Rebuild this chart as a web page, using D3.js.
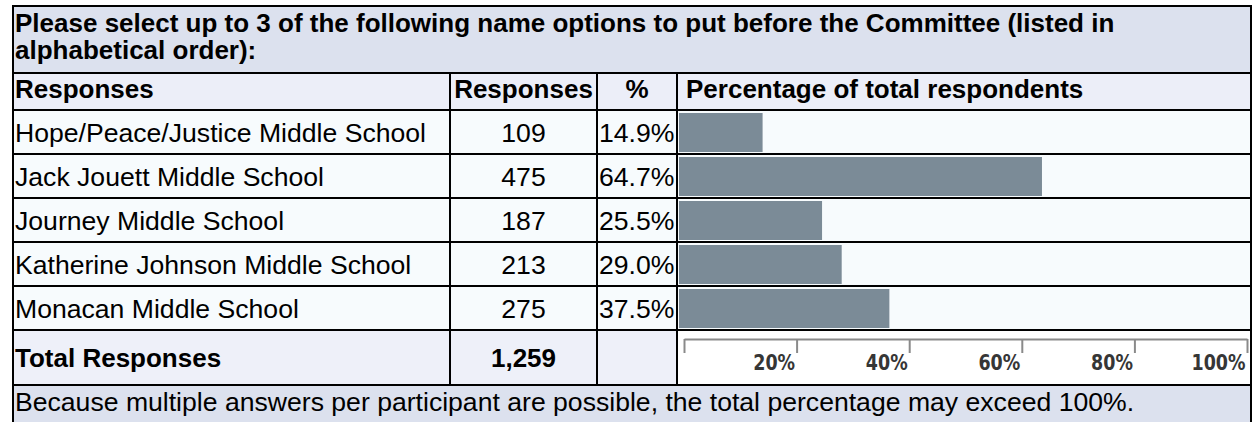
<!DOCTYPE html>
<html>
<head>
<meta charset="utf-8">
<script src="https://cdn.jsdelivr.net/npm/d3@7"></script>
<style>
  body { margin: 0; background: #fff; }
  svg text { font-family: "Liberation Sans", Arial, sans-serif; fill: #000; }
</style>
</head>
<body>
<div id="chart"></div>
<script>
'use strict';

const width = 1253;
const height = 422;

// data
const titleLines = [
    'Please select up to 3 of the following name options to put before the Committee (listed in',
    'alphabetical order):'
];
const columns = ['Responses', 'Responses', '%', 'Percentage of total respondents'];
const names = [
    'Hope/Peace/Justice Middle School',
    'Jack Jouett Middle School',
    'Journey Middle School',
    'Katherine Johnson Middle School',
    'Monacan Middle School'
];
const counts = [109, 475, 187, 213, 275];
const percents = [14.9, 64.7, 25.5, 29.0, 37.5];
const totalLabel = 'Total Responses';
const totalCount = 1259;
const axisTicks = [0, 20, 40, 60, 80, 100];
const footnote = 'Because multiple answers per participant are possible, the total percentage may exceed 100%.';

// layout
const leftX = 13, rightX = 1251;
const colX = [leftX, 450, 597, 677, rightX];
const topY = 6, titleBottom = 73, headBottom = 110, bodyBottom = 330, totalBottom = 385;
const fontBig = 26, fontBody = 26.6;

const rows = names.map((n, i) => ({ name: n, count: counts[i], pct: percents[i] }));

const y = d3.scaleBand().domain(names).range([headBottom, bodyBottom]);
const xBar = d3.scaleLinear().domain([0, 100]).range([679, 1240]);
const xAxis = d3.scaleLinear().domain([0, 100]).range([684, 1247]);

const svg = d3.select('#chart').append('svg')
    .attr('width', width)
    .attr('height', height);

// backgrounds
svg.append('rect').attr('x', leftX).attr('y', topY).attr('width', rightX - leftX).attr('height', titleBottom - topY).attr('fill', '#dce1ee');
svg.append('rect').attr('x', leftX).attr('y', titleBottom).attr('width', rightX - leftX).attr('height', headBottom - titleBottom).attr('fill', '#eceef8');
svg.append('rect').attr('x', leftX).attr('y', headBottom).attr('width', rightX - leftX).attr('height', bodyBottom - headBottom).attr('fill', '#f7fbfd');
svg.append('rect').attr('x', leftX).attr('y', bodyBottom).attr('width', colX[3] - leftX).attr('height', totalBottom - bodyBottom).attr('fill', '#eef0f9');
svg.append('rect').attr('x', colX[3]).attr('y', bodyBottom).attr('width', rightX - colX[3]).attr('height', totalBottom - bodyBottom).attr('fill', '#ffffff');
svg.append('rect').attr('x', leftX).attr('y', totalBottom).attr('width', rightX - leftX).attr('height', height - totalBottom).attr('fill', '#dce1ee');

// title
svg.append('g').selectAll('text').data(titleLines).enter().append('text')
    .attr('x', leftX + 2)
    .attr('y', (d, i) => 32 + i * 27)
    .attr('font-size', fontBig)
    .attr('font-weight', 'bold')
    .text(d => d);

// header row
const headAnchor = ['start', 'middle', 'middle', 'start'];
svg.append('g').selectAll('text').data(columns).enter().append('text')
    .attr('x', (d, i) => headAnchor[i] === 'middle' ? (colX[i] + colX[i + 1]) / 2 : colX[i] + (i === 0 ? 2 : 9))
    .attr('y', 98)
    .attr('text-anchor', (d, i) => headAnchor[i])
    .attr('font-size', fontBig)
    .attr('font-weight', 'bold')
    .text(d => d);

// body rows
const rowG = svg.append('g').selectAll('g').data(rows).enter().append('g')
    .attr('transform', d => `translate(0,${y(d.name)})`);

rowG.append('text')
    .attr('x', leftX + 2)
    .attr('y', y.bandwidth() / 2 + 10)
    .attr('font-size', fontBody)
    .text(d => d.name);

rowG.append('text')
    .attr('x', (colX[1] + colX[2]) / 2)
    .attr('y', y.bandwidth() / 2 + 10)
    .attr('text-anchor', 'middle')
    .attr('font-size', fontBody)
    .text(d => d.count);

rowG.append('text')
    .attr('x', colX[2] + 2)
    .attr('y', y.bandwidth() / 2 + 10)
    .attr('font-size', fontBody)
    .text(d => d.pct.toFixed(1) + '%');

rowG.append('rect')
    .attr('x', xBar(0))
    .attr('y', 3)
    .attr('width', d => xBar(d.pct) - xBar(0))
    .attr('height', y.bandwidth() - 5)
    .attr('fill', '#7b8b97');

// total row
const totalY = (bodyBottom + totalBottom) / 2 + 9;
svg.append('text')
    .attr('x', leftX + 2).attr('y', totalY)
    .attr('font-size', fontBig).attr('font-weight', 'bold')
    .text(totalLabel);
svg.append('text')
    .attr('x', (colX[1] + colX[2]) / 2).attr('y', totalY)
    .attr('text-anchor', 'middle')
    .attr('font-size', fontBig).attr('font-weight', 'bold')
    .text(d3.format(',')(totalCount));

// percentage axis
const labelStretch = 1.25;
const axisG = svg.append('g')
    .attr('transform', 'translate(0,339)')
    .call(d3.axisBottom(xAxis).tickValues(axisTicks).tickSize(14).tickSizeOuter(0)
        .tickFormat(d => d === 0 ? '' : d + '%'));
axisG.select('.domain').attr('stroke', '#8a8a8a').attr('stroke-width', 2);
axisG.selectAll('.tick line').attr('stroke', '#8a8a8a').attr('stroke-width', 2);
axisG.selectAll('.tick text')
    .attr('text-anchor', 'end')
    .attr('x', -2)
    .attr('y', 31 / labelStretch)
    .attr('dy', 0)
    .attr('transform', `scale(1,${labelStretch})`)
    .style('font-family', '"DejaVu Sans", Verdana, sans-serif')
    .style('font-size', '17.5px')
    .style('font-weight', 'bold')
    .style('fill', '#363636');

// footnote
svg.append('text')
    .attr('x', leftX + 2).attr('y', 411)
    .attr('font-size', fontBody)
    .text(footnote);

// grid lines
const grid = svg.append('g').attr('stroke', '#000').attr('stroke-width', 2);
const hLines = [titleBottom, headBottom].concat(names.slice(1).map(n => y(n)), [bodyBottom, totalBottom]);
grid.selectAll('line.h').data(hLines).enter().append('line')
    .attr('class', 'h')
    .attr('x1', leftX).attr('x2', rightX)
    .attr('y1', d => d).attr('y2', d => d);
grid.selectAll('line.v').data(colX.slice(1, 4)).enter().append('line')
    .attr('class', 'v')
    .attr('x1', d => d).attr('x2', d => d)
    .attr('y1', titleBottom).attr('y2', totalBottom);
grid.append('line').attr('x1', leftX - 1).attr('x2', rightX + 1).attr('y1', topY).attr('y2', topY);
grid.append('line').attr('x1', leftX).attr('x2', leftX).attr('y1', topY).attr('y2', height);
grid.append('line').attr('x1', rightX).attr('x2', rightX).attr('y1', topY).attr('y2', height);
</script>
</body>
</html>
